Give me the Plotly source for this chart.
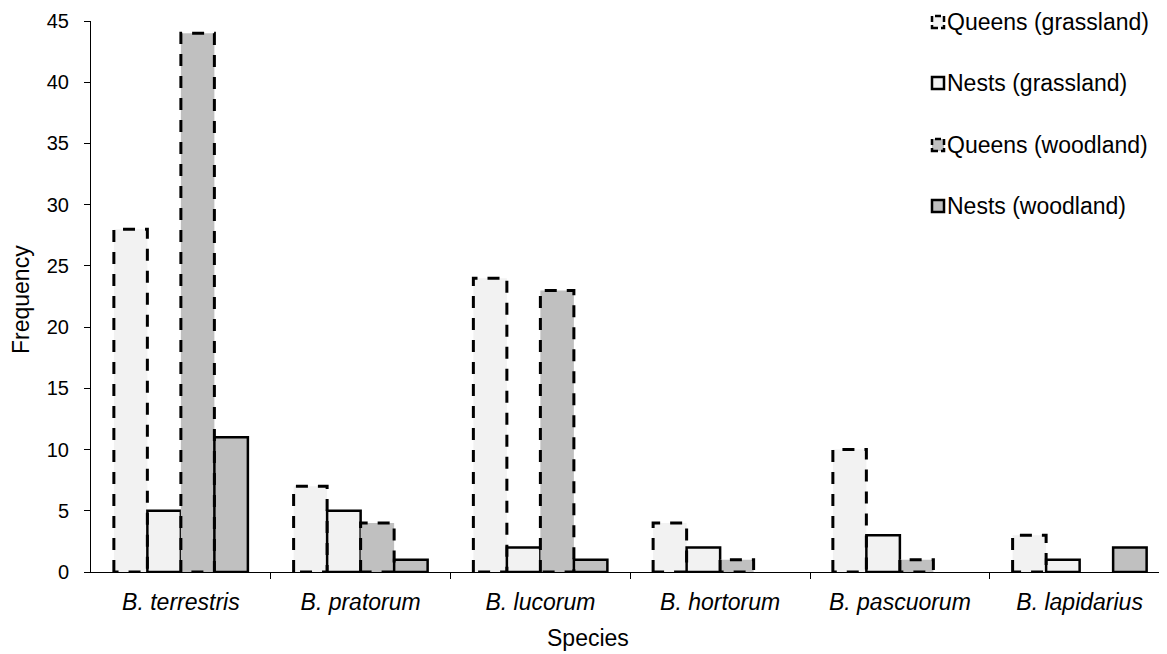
import plotly.graph_objects as go

# ---- data ----
species = ["B. terrestris", "B. pratorum", "B. lucorum", "B. hortorum", "B. pascuorum", "B. lapidarius"]
series_names = ["Queens (grassland)", "Nests (grassland)", "Queens (woodland)", "Nests (woodland)"]
queens_grassland = [28, 7, 24, 4, 10, 3]
nests_grassland = [5, 5, 2, 2, 3, 1]
queens_woodland = [44, 4, 23, 1, 1, 0]
nests_woodland = [11, 1, 1, 0, 0, 2]
y_ticks = [0, 5, 10, 15, 20, 25, 30, 35, 40, 45]

series_values = [queens_grassland, nests_grassland, queens_woodland, nests_woodland]
fills = ["#f2f2f2", "#f2f2f2", "#c0c0c0", "#c0c0c0"]
dashed = [True, False, True, False]

# the page body adds an 8px margin, so the figure is drawn 8px smaller and
# all window positions are shifted by that amount
OFF = 8
W, H = 1167 - OFF, 654 - OFF
ML, MR, MT, MB = 91 - OFF, 0, 21 - OFF, 654 - 572
FONT = "Arial, Liberation Sans, sans-serif"
FS_TICK = 20
FS = 23

group_w = 0.7455
bar_w = group_w / 4
n = len(species)
cat_px = 179.75
x_max = -0.5 + (W - ML - MR) / cat_px

fig = go.Figure()
for k, (name, vals) in enumerate(zip(series_names, series_values)):
    off = (k - 1.5) * bar_w
    xs = [i + off for i in range(n)]
    shown = [v if v > 0 else None for v in vals]
    fig.add_trace(go.Bar(
        x=xs, y=shown, width=bar_w, name=name,
        marker=dict(color=fills[k],
                    line=dict(color="black", width=0 if dashed[k] else 2.5)),
        showlegend=False, hoverinfo="y",
    ))
    if dashed[k]:
        px, py = [], []
        for x, v in zip(xs, vals):
            if v <= 0:
                continue
            x0, x1 = x - bar_w / 2, x + bar_w / 2
            px += [x0, x0, x1, x1, x0, None]
            py += [0, v, v, 0, 0, None]
        fig.add_trace(go.Scatter(
            x=px, y=py, mode="lines",
            line=dict(color="black", width=3, dash="12px,10px"),
            showlegend=False, hoverinfo="skip",
        ))

# ---- helpers: window pixel -> paper ----
def px_to_xpaper(p):
    return (p - OFF - ML) / (W - ML - MR)

def px_to_ypaper(p):
    return (H - MB - (p - OFF)) / (H - MT - MB)

# ---- custom legend ----
legend_rows = [22, 83, 145, 206]
sw_left, sw_size = 932, 12
for k, name in enumerate(series_names):
    yc = legend_rows[k]
    fig.add_shape(type="rect", xref="paper", yref="paper",
                  x0=px_to_xpaper(sw_left), x1=px_to_xpaper(sw_left + sw_size),
                  y0=px_to_ypaper(yc + sw_size / 2), y1=px_to_ypaper(yc - sw_size / 2),
                  fillcolor=fills[k],
                  line=dict(color="black", width=2.5, dash="6px,3px" if dashed[k] else "solid"))
    fig.add_annotation(text=name, xref="paper", yref="paper",
                       x=px_to_xpaper(sw_left + sw_size + 1), y=px_to_ypaper(yc),
                       xanchor="left", yanchor="middle", showarrow=False,
                       font=dict(family=FONT, size=FS, color="black"))

# axis titles
fig.add_annotation(text="Species", xref="paper", yref="paper",
                   x=px_to_xpaper(588), y=px_to_ypaper(638),
                   xanchor="center", yanchor="middle", showarrow=False,
                   font=dict(family=FONT, size=FS, color="black"))
fig.add_annotation(text="Frequency", xref="paper", yref="paper",
                   x=px_to_xpaper(21), y=px_to_ypaper(300), textangle=-90,
                   xanchor="center", yanchor="middle", showarrow=False,
                   font=dict(family=FONT, size=FS, color="black"))

fig.update_layout(
    width=W, height=H,
    margin=dict(l=ML, r=MR, t=MT, b=MB, autoexpand=False),
    plot_bgcolor="white", paper_bgcolor="white",
    barmode="overlay", showlegend=False,
    font=dict(family=FONT, size=FS, color="black"),
)
fig.update_xaxes(
    range=[-0.5, x_max], tickvals=list(range(n)), ticktext=species,
    ticks="", showgrid=False, zeroline=False, automargin=False,
    showline=True, linecolor="black", linewidth=1,
    tickfont=dict(family=FONT, size=FS, style="italic"),
    ticklabelstandoff=9,
    minor=dict(tickvals=[i + 0.5 for i in range(n - 1)], ticks="outside",
               ticklen=6, tickcolor="black", tickwidth=1, showgrid=False),
)
fig.update_yaxes(
    range=[0, 45], tickvals=y_ticks, ticks="outside", ticklen=6,
    tickcolor="black", tickwidth=1, showgrid=False, zeroline=False,
    showline=True, linecolor="black", linewidth=1, automargin=False,
    tickfont=dict(family=FONT, size=FS_TICK),
    ticklabelstandoff=11,
)

fig.write_html("out.html")
